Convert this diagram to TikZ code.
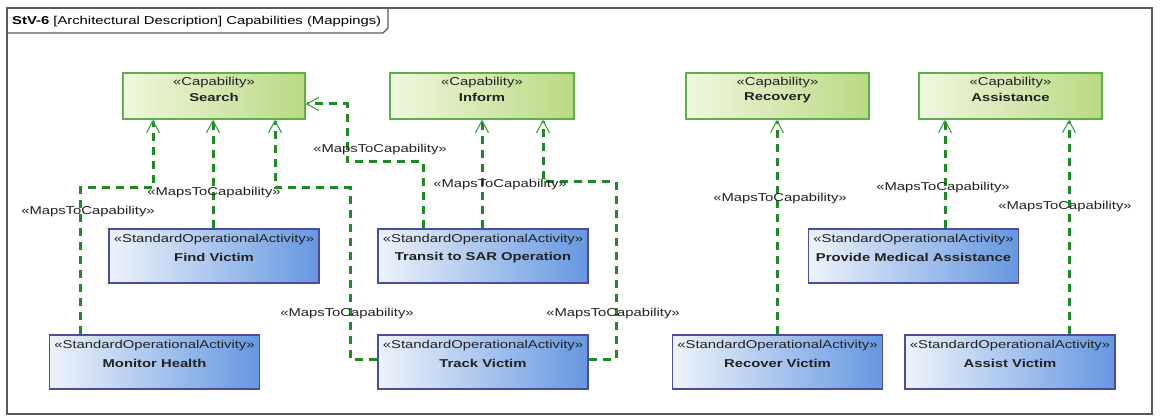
\documentclass[tikz,border=0pt]{standalone}
\usepackage{fontspec}
\setmainfont{Liberation Sans}[FakeStretch=1.3]
\usetikzlibrary{arrows.meta}
\definecolor{frameGray}{HTML}{5A5A5A}
\definecolor{capBorder}{HTML}{5FAE4C}
\definecolor{capLight}{HTML}{F1F7DE}
\definecolor{capDark}{HTML}{B9D983}
\definecolor{actBorder}{HTML}{4B4C9E}
\definecolor{actLight}{HTML}{EEF3FB}
\definecolor{actDark}{HTML}{6597E0}
\definecolor{connGreen}{HTML}{1F8A22}
\definecolor{tipGreen}{HTML}{3FA03F}
\definecolor{txtGray}{HTML}{222222}
\tikzset{
  capbox/.style={draw=capBorder, line width=1.2pt, left color=capLight, right color=capDark,
    minimum height=46pt, inner sep=0pt},
  actbox/.style={draw=actBorder, line width=1.4pt, left color=actLight, right color=actDark,
    minimum height=54pt, minimum width=210pt, inner sep=0pt},
  stereo/.style={font=\fontsize{11.4}{13}\selectfont, text=txtGray, inner sep=0pt},
  bname/.style={font=\fontsize{11.4}{13}\selectfont\bfseries, text=txtGray, inner sep=0pt},
  lbl/.style={font=\fontsize{11.4}{13}\selectfont, text=txtGray, inner sep=0pt},
  conn/.style={draw=connGreen, line width=3pt, dash pattern=on 8pt off 6pt,
    -{Straight Barb[length=12pt, width=13pt, line width=1.1pt, color=tipGreen]}},
}
\begin{document}
\begin{tikzpicture}[x=1pt, y=-1pt]
\useasboundingbox (0,0) rectangle (1160,417);
\fill[white] (0,0) rectangle (1160,417);
% frame
\draw[frameGray, line width=1.4pt] (7,8) rectangle (1152,414);
\draw[frameGray, line width=1.1pt] (7,33) -- (383,33) -- (388,28) -- (388,8);
\node[lbl, anchor=west, text=black] (title) at (12,22) {\textbf{StV-6} [Architectural Description] Capabilities (Mappings)};

% capabilities
\node[capbox, minimum width=182pt] (S) at (214,96) {};
\node[capbox, minimum width=184pt] (I) at (482,96) {};
\node[capbox, minimum width=183pt] (R) at (777.5,96) {};
\node[capbox, minimum width=183pt] (A) at (1010.5,96) {};
\foreach \n/\t in {S/Search, I/Inform, R/Recovery, A/Assistance}{
  \node[stereo] (\n-s) at ([yshift=-10pt]\n.north) {«Capability»};
  \node[bname] (\n-n) at ([yshift=-25pt]\n.north) {\t};
}

% activities
\node[actbox] (fv) at (214,256) {};
\node[actbox] (tr) at (483,256) {};
\node[actbox] (pm) at (913.5,256) {};
\node[actbox] (mh) at (154.5,362) {};
\node[actbox] (tv) at (483,362) {};
\node[actbox] (rv) at (777.5,362) {};
\node[actbox] (av) at (1010,362) {};
\foreach \n/\t in {fv/Find Victim, tr/Transit to SAR Operation, pm/Provide Medical Assistance, mh/Monitor Health, tv/Track Victim, rv/Recover Victim, av/Assist Victim}{
  \node[stereo] (\n-s) at ([yshift=-11pt]\n.north) {«StandardOperationalActivity»};
  \node[bname] (\n-n) at ([yshift=-29pt]\n.north) {\t};
}

% waypoints
\coordinate (p1a) at (80,188);  \coordinate (p1b) at (153,188);
\coordinate (p2)  at (213,0);
\coordinate (p3a) at (350,359); \coordinate (p3b) at (350,188); \coordinate (p3c) at (275,188);
\coordinate (p4a) at (423,162); \coordinate (p4b) at (347,162); \coordinate (p4c) at (347,104);
\coordinate (p5)  at (482,0);
\coordinate (p6a) at (616,359); \coordinate (p6b) at (616,182); \coordinate (p6c) at (543,182);
\coordinate (p7)  at (777,0);
\coordinate (p8)  at (945,0);
\coordinate (p9)  at (1069,0);

% connectors
\draw[conn] (p1a |- mh.north) -- (p1a) -- (p1b) -- (p1b |- S.south);
\draw[conn] (p2 |- fv.north) -- (p2 |- S.south);
\draw[conn] (p3a -| tv.west) -- (p3a) -- (p3b) -- (p3c) -- (p3c |- S.south);
\draw[conn] (p4a |- tr.north) -- (p4a) -- (p4b) -- (p4c) -- (p4c -| S.east);
\draw[conn] (p5 |- tr.north) -- (p5 |- I.south);
\draw[conn] (p6a -| tv.east) -- (p6a) -- (p6b) -- (p6c) -- (p6c |- I.south);
\draw[conn] (p7 |- rv.north) -- (p7 |- R.south);
\draw[conn] (p8 |- pm.north) -- (p8 |- A.south);
\draw[conn] (p9 |- av.north) -- (p9 |- A.south);

% labels
\node[lbl] (l1) at (88,212)  {«MapsToCapability»};
\node[lbl] (l2) at (214,193) {«MapsToCapability»};
\node[lbl] (l3) at (347,314) {«MapsToCapability»};
\node[lbl] (l4) at (380,150) {«MapsToCapability»};
\node[lbl] (l5) at (500,185) {«MapsToCapability»};
\node[lbl] (l6) at (613,314) {«MapsToCapability»};
\node[lbl] (l7) at (780,199) {«MapsToCapability»};
\node[lbl] (l8) at (943,188) {«MapsToCapability»};
\node[lbl] (l9) at (1065,207) {«MapsToCapability»};
\end{tikzpicture}
\end{document}
